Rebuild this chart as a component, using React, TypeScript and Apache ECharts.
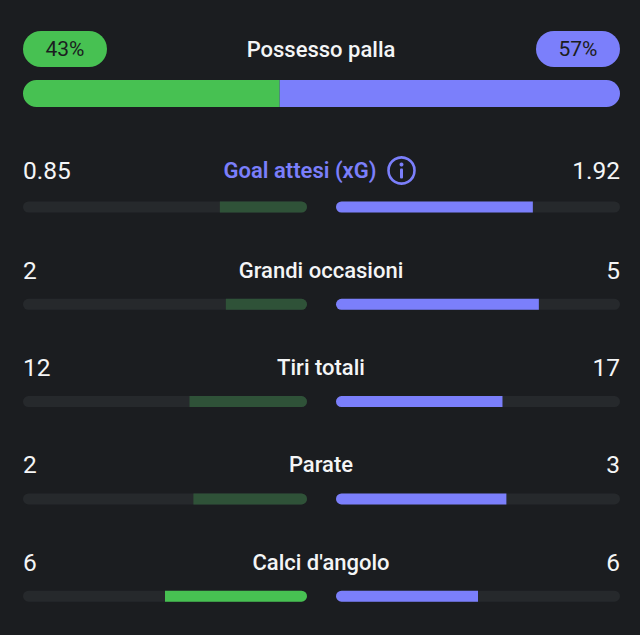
import React, { useEffect, useRef } from "react";
import * as echarts from "echarts";

// ---- data ----
const possessionTitle = "Possesso palla";
const possession = [43, 57]; // home, away (%)
const statNames = ["Goal attesi (xG)", "Grandi occasioni", "Tiri totali", "Parate", "Calci d'angolo"];
const homeValues = [0.85, 2, 12, 2, 6];
const awayValues = [1.92, 5, 17, 3, 6];
const highlightedStat = "Goal attesi (xG)";

// ---- styles ----
const BG = "#1b1d20";
const TEXT = "#f4f5f6";
const GREEN = "#47c152";
const GREEN_DIM = "#2f5238";
const PURPLE = "#7b7ffb";
const PURPLE_DIM = "#3b3d6e";
const TRACK = "#26292c";
const FONT = "Roboto, 'Noto Sans', sans-serif";

export default function App() {
  const ref = useRef<HTMLDivElement>(null);

  useEffect(() => {
    if (!ref.current) return;
    const chart = echarts.init(ref.current, null, { renderer: "svg" });

    const grid: any[] = [];
    const xAxis: any[] = [];
    const yAxis: any[] = [];
    const series: any[] = [];
    const graphic: any[] = [];

    // possession bar
    const pTop = 80;
    const pH = 27;
    grid.push({ left: 23, top: pTop, width: 597, height: pH });
    xAxis.push({ gridIndex: 0, type: "value", min: 0, max: 100, show: false });
    yAxis.push({ gridIndex: 0, type: "category", data: ["pos"], show: false });
    series.push({
      type: "bar", xAxisIndex: 0, yAxisIndex: 0, stack: "pos", barWidth: pH, silent: true,
      data: [possession[0]],
      itemStyle: { color: GREEN, borderRadius: [pH / 2, 0, 0, pH / 2] },
    });
    series.push({
      type: "bar", xAxisIndex: 0, yAxisIndex: 0, stack: "pos", barWidth: pH, silent: true,
      data: [possession[1]],
      itemStyle: { color: PURPLE, borderRadius: [0, pH / 2, pH / 2, 0] },
    });

    // pills + title
    const pillY = 31, pillH = 36, pillW = 84;
    graphic.push({
      type: "rect", shape: { x: 23, y: pillY, width: pillW, height: pillH, r: pillH / 2 },
      style: { fill: GREEN }, silent: true,
    });
    graphic.push({
      type: "rect", shape: { x: 620 - pillW, y: pillY, width: pillW, height: pillH, r: pillH / 2 },
      style: { fill: PURPLE }, silent: true,
    });
    graphic.push({
      type: "text", x: 23 + pillW / 2, y: pillY + pillH / 2,
      style: { text: possession[0] + "%", fill: "#1b1d20", font: `400 21px ${FONT}`, align: "center", verticalAlign: "middle" },
    });
    graphic.push({
      type: "text", x: 620 - pillW / 2, y: pillY + pillH / 2,
      style: { text: possession[1] + "%", fill: "#1b1d20", font: `400 21px ${FONT}`, align: "center", verticalAlign: "middle" },
    });
    graphic.push({
      type: "text", x: 321, y: pillY + pillH / 2,
      style: { text: possessionTitle, fill: TEXT, font: `500 22px ${FONT}`, align: "center", verticalAlign: "middle" },
    });

    // stat rows
    const barH = 11;
    statNames.forEach((name, i) => {
      const barC = 207 + i * 97.3;
      const isHighlighted = name === highlightedStat;
      const labelY = barC - (isHighlighted ? 37 : 34);
      const h = homeValues[i];
      const a = awayValues[i];
      const total = h + a;
      const hs = total > 0 ? h / total : 0;
      const as = total > 0 ? a / total : 0;
      const gL = grid.length;
      grid.push({ left: 23, top: barC - barH / 2, width: 284, height: barH });
      grid.push({ left: 336, top: barC - barH / 2, width: 284, height: barH });
      xAxis.push({ gridIndex: gL, type: "value", min: 0, max: 1, inverse: true, show: false });
      xAxis.push({ gridIndex: gL + 1, type: "value", min: 0, max: 1, show: false });
      yAxis.push({ gridIndex: gL, type: "category", data: [name], show: false });
      yAxis.push({ gridIndex: gL + 1, type: "category", data: [name], show: false });
      series.push({
        type: "bar", xAxisIndex: gL, yAxisIndex: gL, barWidth: barH, silent: true,
        data: [hs],
        showBackground: true,
        backgroundStyle: { color: TRACK, borderRadius: barH / 2 },
        itemStyle: { color: h >= a ? GREEN : GREEN_DIM, borderRadius: [0, barH / 2, barH / 2, 0] },
      });
      series.push({
        type: "bar", xAxisIndex: gL + 1, yAxisIndex: gL + 1, barWidth: barH, silent: true,
        data: [as],
        showBackground: true,
        backgroundStyle: { color: TRACK, borderRadius: barH / 2 },
        itemStyle: { color: a >= h ? PURPLE : PURPLE_DIM, borderRadius: [barH / 2, 0, 0, barH / 2] },
      });

      graphic.push({
        type: "text", x: 23, y: labelY,
        style: { text: String(h), fill: TEXT, font: `400 24.5px ${FONT}`, align: "left", verticalAlign: "middle" },
      });
      graphic.push({
        type: "text", x: 620, y: labelY,
        style: { text: String(a), fill: TEXT, font: `400 24.5px ${FONT}`, align: "right", verticalAlign: "middle" },
      });

      if (isHighlighted) {
        graphic.push({
          type: "text", x: 300, y: labelY,
          style: { text: name, fill: PURPLE, font: `600 22px ${FONT}`, align: "center", verticalAlign: "middle" },
        });
        const cx = 401.5, cy = labelY + 0.5;
        graphic.push({
          type: "circle", shape: { cx, cy, r: 13 },
          style: { fill: "none", stroke: PURPLE, lineWidth: 2.6 }, silent: true,
        });
        graphic.push({
          type: "circle", shape: { cx, cy: cy - 6, r: 2 },
          style: { fill: PURPLE }, silent: true,
        });
        graphic.push({
          type: "rect", shape: { x: cx - 1.5, y: cy - 2, width: 3, height: 10, r: 1 },
          style: { fill: PURPLE }, silent: true,
        });
      } else {
        graphic.push({
          type: "text", x: 321, y: labelY,
          style: { text: name, fill: TEXT, font: `500 22px ${FONT}`, align: "center", verticalAlign: "middle" },
        });
      }
    });

    chart.setOption({
      animation: false,
      backgroundColor: BG,
      grid,
      xAxis,
      yAxis,
      series,
      graphic,
    });

    return () => chart.dispose();
  }, []);

  return (
    <div
      ref={ref}
      style={{ position: "absolute", left: 0, top: 0, width: 640, height: 635, background: BG }}
    />
  );
}
